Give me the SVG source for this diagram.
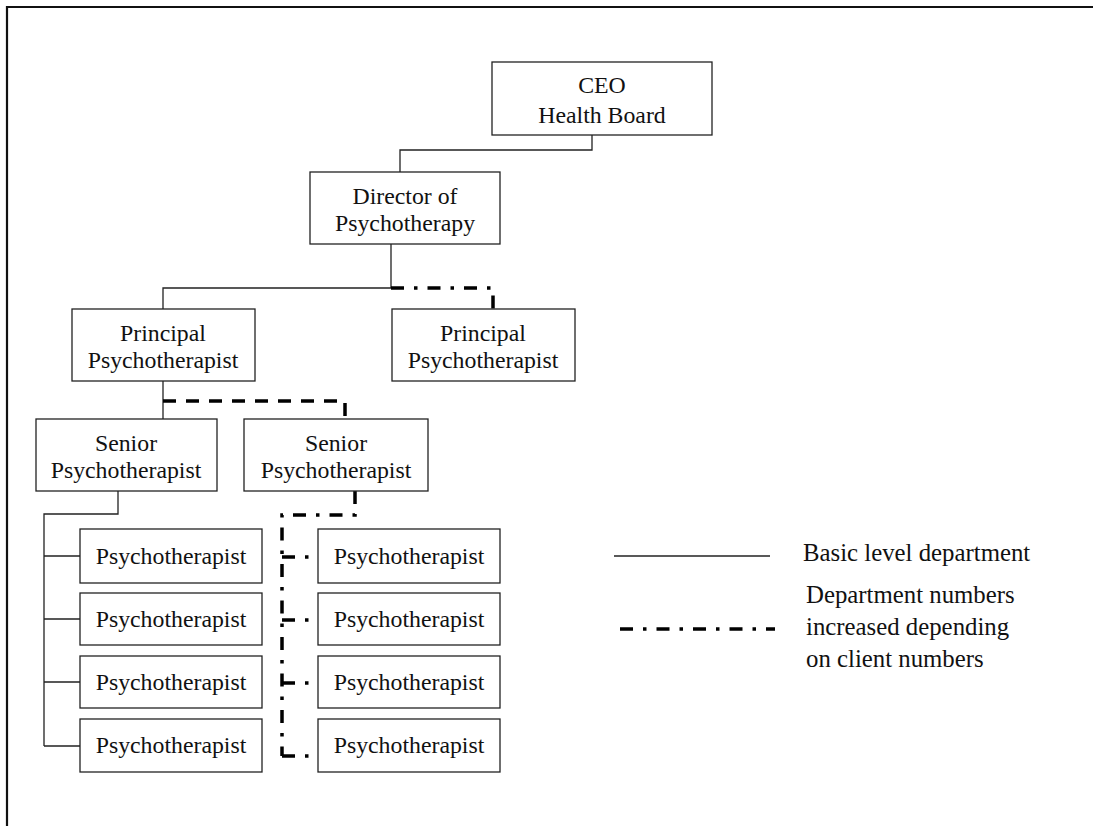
<svg xmlns="http://www.w3.org/2000/svg" width="1093" height="826" viewBox="0 0 1093 826">
<style>
.box{fill:#fff;stroke:#222;stroke-width:1.3}
.t{font-family:"Liberation Serif","Times New Roman",serif;font-size:23.8px;fill:#111;text-anchor:middle}
.lt{font-family:"Liberation Serif","Times New Roman",serif;font-size:24.8px;fill:#111}
.solid{fill:none;stroke:#222;stroke-width:1.3}
.dd{fill:none;stroke:#000;stroke-width:3.5;stroke-dasharray:13 10 3.5 10}
.dash{fill:none;stroke:#000;stroke-width:3.5;stroke-dasharray:13 10}
</style>
<rect x="0" y="0" width="1093" height="826" fill="#fff"/>
<path d="M7,830 V7 H1100" fill="none" stroke="#111" stroke-width="2.2"/>
<g id="connectors">
<path class="solid" d="M592,135 V150 H400 V172"/>
<path class="solid" d="M391,244 V288 H163 V309"/>
<path class="dd" d="M391,288 H493 V309"/>
<path class="solid" d="M163,381 V419"/>
<path class="dash" d="M163,401 H345 V419"/>
<path class="solid" d="M118,491 V514 H44 V746"/>
<path class="solid" d="M44,556 H80 M44,619 H80 M44,682 H80 M44,746 H80"/>
<path class="dd" d="M355,491 V515 H282 V756"/>
<path class="dd" d="M282,557 H318 M282,620 H318 M282,683 H318 M282,756 H318"/>
</g>
<g id="ceo"><rect class="box" x="492" y="62" width="220" height="73"/><text class="t" x="602" y="93">CEO</text><text class="t" x="602" y="123">Health Board</text></g>
<g id="director"><rect class="box" x="310" y="172" width="190" height="72"/><text class="t" x="405" y="204">Director of</text><text class="t" x="405" y="231">Psychotherapy</text></g>
<g id="principal1"><rect class="box" x="72" y="309" width="183" height="72"/><text class="t" x="163" y="341">Principal</text><text class="t" x="163" y="368">Psychotherapist</text></g>
<g id="principal2"><rect class="box" x="392" y="309" width="183" height="72"/><text class="t" x="483" y="341">Principal</text><text class="t" x="483" y="368">Psychotherapist</text></g>
<g id="senior1"><rect class="box" x="36" y="419" width="181" height="72"/><text class="t" x="126" y="451">Senior</text><text class="t" x="126" y="478">Psychotherapist</text></g>
<g id="senior2"><rect class="box" x="244" y="419" width="184" height="72"/><text class="t" x="336" y="451">Senior</text><text class="t" x="336" y="478">Psychotherapist</text></g>
<g id="p1"><rect class="box" x="80" y="529" width="182" height="54"/><text class="t" x="171" y="564">Psychotherapist</text></g>
<g id="p2"><rect class="box" x="80" y="593" width="182" height="52"/><text class="t" x="171" y="627">Psychotherapist</text></g>
<g id="p3"><rect class="box" x="80" y="656" width="182" height="52"/><text class="t" x="171" y="690">Psychotherapist</text></g>
<g id="p4"><rect class="box" x="80" y="719" width="182" height="53"/><text class="t" x="171" y="753">Psychotherapist</text></g>
<g id="p5"><rect class="box" x="318" y="529" width="182" height="54"/><text class="t" x="409" y="564">Psychotherapist</text></g>
<g id="p6"><rect class="box" x="318" y="593" width="182" height="52"/><text class="t" x="409" y="627">Psychotherapist</text></g>
<g id="p7"><rect class="box" x="318" y="656" width="182" height="52"/><text class="t" x="409" y="690">Psychotherapist</text></g>
<g id="p8"><rect class="box" x="318" y="719" width="182" height="53"/><text class="t" x="409" y="753">Psychotherapist</text></g>
<g id="legend">
<line class="solid" x1="614" y1="556" x2="770" y2="556"/>
<text class="lt" x="803" y="561">Basic level department</text>
<line class="dd" x1="620" y1="629" x2="775" y2="629"/>
<text class="lt" x="806" y="603">Department numbers</text>
<text class="lt" x="806" y="635">increased depending</text>
<text class="lt" x="806" y="667">on client numbers</text>
</g>
</svg>
